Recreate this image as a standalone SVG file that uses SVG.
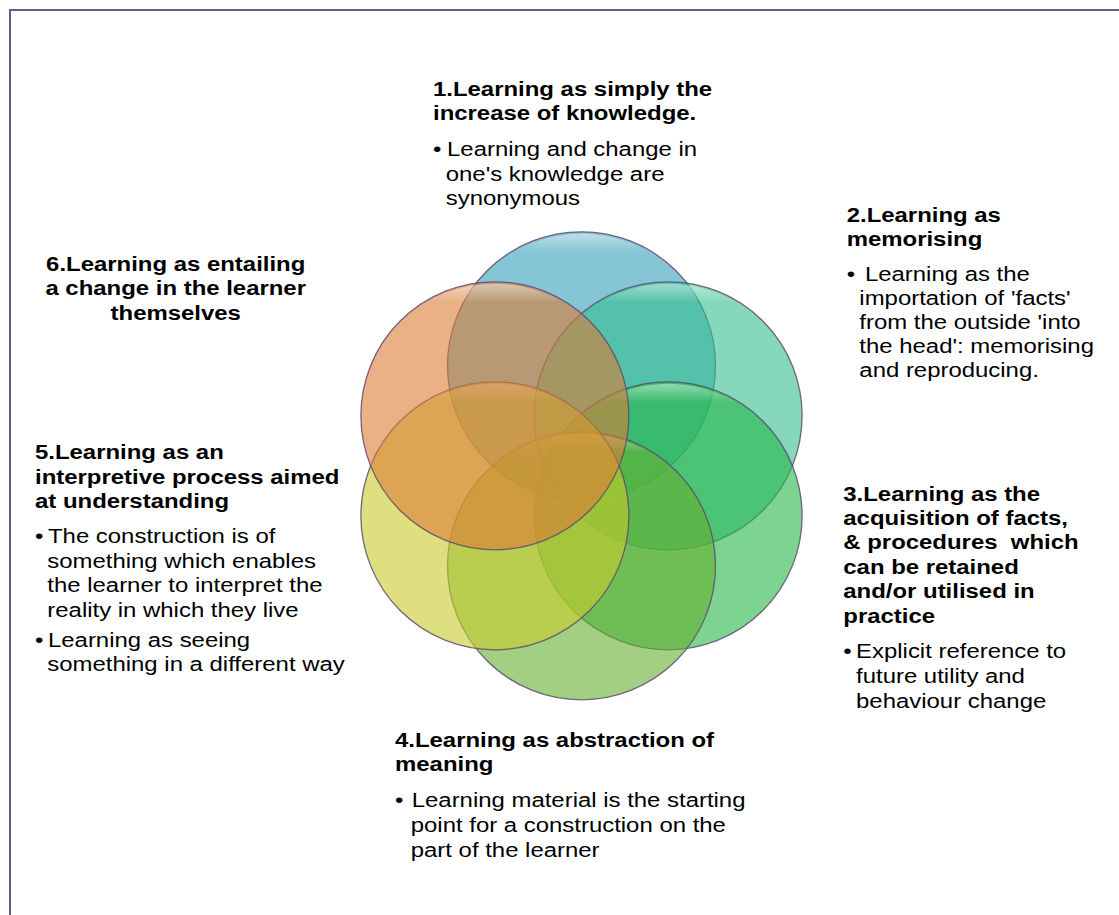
<svg xmlns="http://www.w3.org/2000/svg" width="1119" height="915" viewBox="0 0 1119 915">
<defs>
<linearGradient id="bevel" x1="0" y1="0" x2="0" y2="1">
<stop offset="0" stop-color="#fff" stop-opacity="0.45"/>
<stop offset="0.07" stop-color="#fff" stop-opacity="0"/>
<stop offset="1" stop-color="#fff" stop-opacity="0"/>
</linearGradient>
</defs>
<style>
.c{stroke:#5d4b6e;stroke-width:1.3;stroke-opacity:0.85;fill-opacity:0.6}
.g{fill:url(#bevel);stroke:none}
.h{font-family:"Liberation Sans",Arial,sans-serif;font-size:21px;font-weight:bold;fill:#000}
.b{font-family:"Liberation Sans",Arial,sans-serif;font-size:21px;fill:#000}
.m{text-anchor:middle}
</style>
<rect width="1119" height="915" fill="#fff"/>
<path d="M10,915 V10 H1119" fill="none" stroke="#6a5a8e" stroke-width="2"/>
<g id="node-1">
<circle class="c" cx="581.5" cy="365.8" r="134" fill="rgb(53,158,185)"/>
<circle class="g" cx="581.5" cy="365.8" r="132"/>
<g transform="translate(433,0) scale(1.14,1)">
<text class="h"><tspan x="0" y="95.7">1.Learning as simply the</tspan><tspan x="0" y="120">increase of knowledge.</tspan></text>
<text class="b"><tspan x="0" y="156">•</tspan><tspan x="12.3" y="156">Learning and change in</tspan><tspan x="11.2" y="181">one's knowledge are</tspan><tspan x="11.2" y="205">synonymous</tspan></text>
</g>
</g>
<g id="node-2">
<circle class="c" cx="668.1" cy="415.8" r="134" fill="rgb(52,190,143)"/>
<circle class="g" cx="668.1" cy="415.8" r="132"/>
<g transform="translate(846.7,0) scale(1.14,1)">
<text class="h"><tspan x="0" y="222">2.Learning as</tspan><tspan x="0" y="246">memorising</tspan></text>
<text class="b"><tspan x="0" y="281">•</tspan><tspan x="16" y="281">Learning as the</tspan><tspan x="11.1" y="305">importation of 'facts'</tspan><tspan x="11.1" y="329">from the outside 'into</tspan><tspan x="11.1" y="353">the head': memorising</tspan><tspan x="11.1" y="377">and reproducing.</tspan></text>
</g>
</g>
<g id="node-3">
<circle class="c" cx="668.1" cy="515.8" r="134" fill="rgb(38,183,70)"/>
<circle class="g" cx="668.1" cy="515.8" r="132"/>
<g transform="translate(843.3,0) scale(1.14,1)">
<text class="h"><tspan x="0" y="501">3.Learning as the</tspan><tspan x="0" y="525">acquisition of facts,</tspan><tspan x="0" y="549">&amp; procedures&#160; which</tspan><tspan x="0" y="574">can be retained</tspan><tspan x="0" y="598">and/or utilised in</tspan><tspan x="0" y="623">practice</tspan></text>
<text class="b"><tspan x="0" y="658">•</tspan><tspan x="11.2" y="658">Explicit reference to</tspan><tspan x="11.2" y="683">future utility and</tspan><tspan x="11.2" y="708">behaviour change</tspan></text>
</g>
</g>
<g id="node-4">
<circle class="c" cx="581.5" cy="565.8" r="134" fill="rgb(102,175,47)"/>
<circle class="g" cx="581.5" cy="565.8" r="132"/>
<g transform="translate(395,0) scale(1.14,1)">
<text class="h"><tspan x="0" y="747">4.Learning as abstraction of</tspan><tspan x="0" y="771">meaning</tspan></text>
<text class="b"><tspan x="0" y="807">•</tspan><tspan x="14.7" y="807">Learning material is the starting</tspan><tspan x="13.8" y="832">point for a construction on the</tspan><tspan x="13.8" y="857">part of the learner</tspan></text>
</g>
</g>
<g id="node-5">
<circle class="c" cx="494.9" cy="515.8" r="134" fill="rgb(200,203,43)"/>
<circle class="g" cx="494.9" cy="515.8" r="132"/>
<g transform="translate(35,0) scale(1.14,1)">
<text class="h"><tspan x="0" y="459">5.Learning as an</tspan><tspan x="0" y="484">interpretive process aimed</tspan><tspan x="0" y="508">at understanding</tspan></text>
<text class="b"><tspan x="0" y="543">•</tspan><tspan x="11.4" y="543">The construction is of</tspan><tspan x="10.8" y="568">something which enables</tspan><tspan x="10.8" y="592">the learner to interpret the</tspan><tspan x="10.8" y="617">reality in which they live</tspan><tspan x="0" y="647">•</tspan><tspan x="11.4" y="647">Learning as seeing</tspan><tspan x="10.8" y="671">something in a different way</tspan></text>
</g>
</g>
<g id="node-6">
<circle class="c" cx="494.9" cy="415.8" r="134" fill="rgb(220,123,53)"/>
<circle class="g" cx="494.9" cy="415.8" r="132"/>
<g transform="translate(175.7,0) scale(1.14,1)">
<text class="h m"><tspan x="0" y="271">6.Learning as entailing</tspan><tspan x="0" y="295">a change in the learner</tspan><tspan x="0" y="320">themselves</tspan></text>
</g>
</g>
<g id="connectors"/>
</svg>
